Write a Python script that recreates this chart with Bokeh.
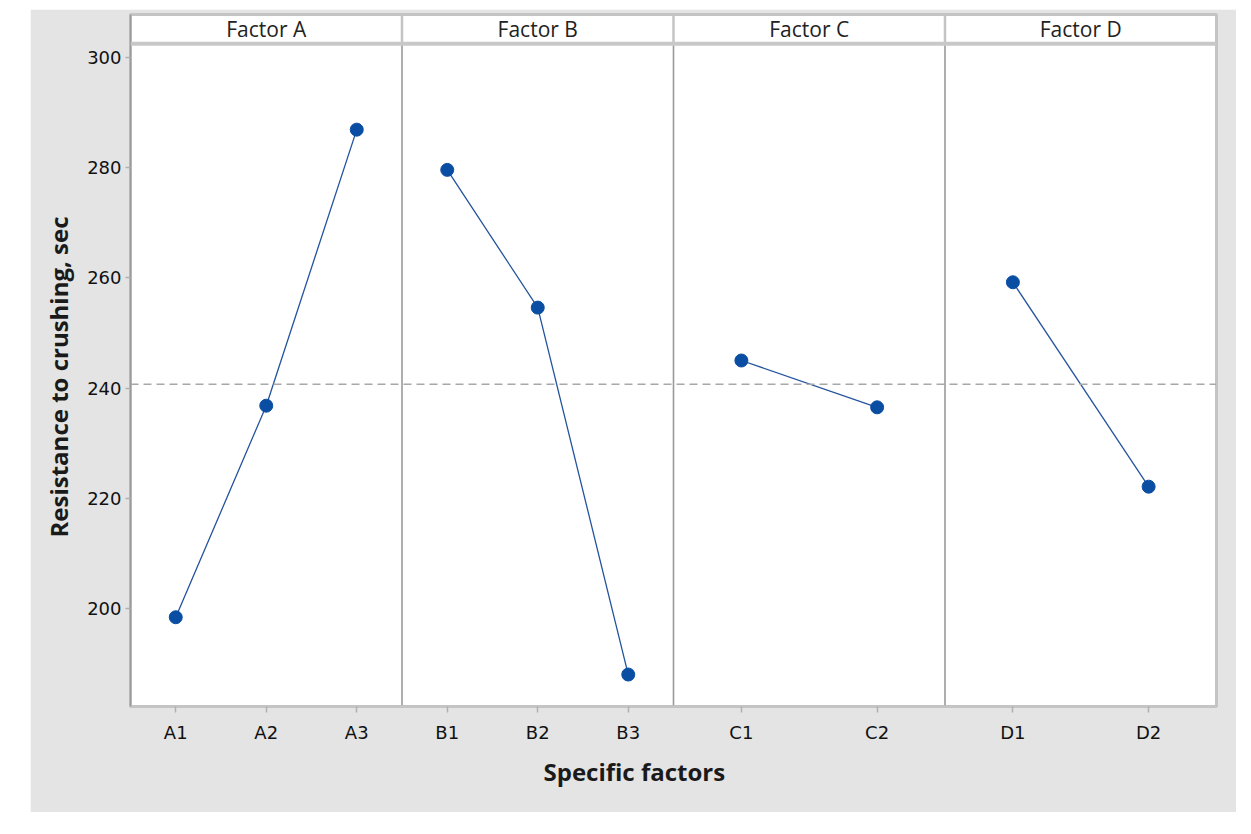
from bokeh.plotting import figure
from bokeh.models import Range1d, FixedTicker, Span, Title, ColumnDataSource
from bokeh.core.properties import value
from bokeh.embed import file_html
from bokeh.resources import INLINE

# ---- data ----
factors = ["Factor A", "Factor B", "Factor C", "Factor D"]
levels = [["A1", "A2", "A3"], ["B1", "B2", "B3"], ["C1", "C2"], ["D1", "D2"]]
means = [[198.4, 236.8, 286.9], [279.6, 254.6, 188.0], [245.0, 236.5], [259.2, 222.1]]
grand_mean = 240.7
y_ticks = [200, 220, 240, 260, 280, 300]

# ---- layout constants ----
PANEL = 12.0            # data width of each panel
Y_LO, Y_PLOT_HI, Y_HI = 182.2, 302.5, 307.8
FONT = "Open Sans"
TICK_FONT = "DejaVu Sans"

p = figure(width=1206, height=803, output_backend="svg", toolbar_location=None,
           x_range=Range1d(0, PANEL * len(factors)), y_range=Range1d(Y_LO, Y_HI),
           min_border_left=100, min_border_right=20, min_border_top=5, min_border_bottom=106,
           background_fill_color="white", border_fill_color="#e4e4e4")
p.margin = (9, 0, 0, 30)
p.xgrid.visible = False
p.ygrid.visible = False
p.outline_line_color = "#c4c4c4"
p.outline_line_width = 3

# positions of levels
tick_pos = []
tick_lab = {}
for i, (lv, mv) in enumerate(zip(levels, means)):
    n = len(lv)
    xs = [i * PANEL + (k + 0.5) * PANEL / n for k in range(n)]
    for x, l in zip(xs, lv):
        tick_pos.append(int(round(x)))
        tick_lab[int(round(x))] = l
    src = ColumnDataSource(dict(x=xs, y=mv))
    p.line("x", "y", source=src, line_color="#24539e", line_width=1.3)
    p.scatter("x", "y", source=src, size=13, fill_color="#0a4ea3", line_color="#0a4ea3")

# reference line
p.add_layout(Span(location=grand_mean, dimension="width", line_color="#a8a8a8",
                  line_width=1.5, line_dash="8 5"))

# panel dividers (plot region darker, header lighter)
div_x = [i * PANEL for i in range(1, len(factors))]
p.segment(x0=div_x, x1=div_x, y0=[Y_LO] * len(div_x), y1=[Y_PLOT_HI] * len(div_x),
          line_color="#9a9a9a", line_width=1.6)
p.segment(x0=div_x, x1=div_x, y0=[Y_PLOT_HI] * len(div_x), y1=[Y_HI] * len(div_x),
          line_color="#c4c4c4", line_width=2.5)

# header strip separator
p.add_layout(Span(location=Y_PLOT_HI, dimension="width", line_color="#c8c8c8", line_width=4))

# header texts
hx = [i * PANEL + PANEL / 2 for i in range(len(factors))]
p.text(x=hx, y=[(Y_PLOT_HI + Y_HI) / 2] * len(factors), text=factors,
       text_align="center", text_baseline="middle", text_font=value(FONT),
       text_font_size="21px", text_color="#222222")

# axes
xa = p.xaxis[0]
xa.ticker = FixedTicker(ticks=tick_pos)
xa.major_label_overrides = tick_lab
xa.minor_tick_line_color = None
xa.major_tick_out = 6
xa.major_tick_in = 0
xa.major_tick_line_color = "#b0b0b0"
xa.major_tick_line_width = 1.5
xa.axis_line_color = "#c4c4c4"
xa.axis_line_width = 2.5
xa.major_label_standoff = 9
xa.major_label_text_font = TICK_FONT
xa.major_label_text_font_size = "18px"
xa.major_label_text_color = "#111111"

ya = p.yaxis[0]
ya.ticker = FixedTicker(ticks=y_ticks)
ya.minor_tick_line_color = None
ya.major_tick_out = 5
ya.major_tick_in = 0
ya.major_tick_line_color = "#b0b0b0"
ya.major_tick_line_width = 1.5
ya.axis_line_color = "#9a9a9a"
ya.axis_line_width = 1.6
ya.major_label_standoff = 4
ya.major_label_text_font = TICK_FONT
ya.major_label_text_font_size = "18px"
ya.major_label_text_color = "#111111"

# axis titles
p.add_layout(Title(text="Specific factors", align="left", offset=413, standoff=15,
                   text_font=FONT, text_font_size="24px", text_font_style="bold",
                   text_color="#1a1a1a"), "below")
p.add_layout(Title(text="Resistance to crushing, sec", align="left", offset=169, standoff=19,
                   text_font=FONT, text_font_size="24px", text_font_style="bold",
                   text_color="#1a1a1a"), "left")

open("out.html", "w").write(file_html(p, INLINE))
